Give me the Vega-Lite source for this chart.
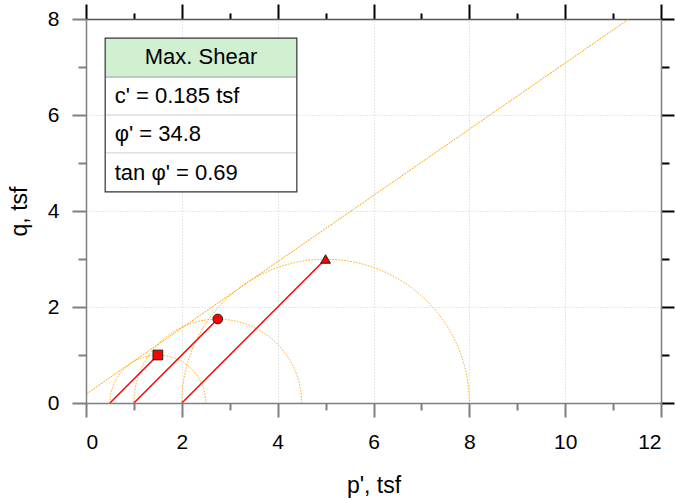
{
  "$schema": "https://vega.github.io/schema/vega-lite/v6.json",
  "width": 575,
  "height": 384,
  "autosize": "none",
  "padding": {"left": 86, "top": 19, "right": 14, "bottom": 97},
  "background": "white",
  "config": {
    "view": {"stroke": null},
    "font": "Liberation Sans",
    "axis": {"labelFont": "Liberation Sans", "titleFont": "Liberation Sans", "labelColor": "black", "titleColor": "black", "titleFontWeight": "normal"}
  },
  "datasets": {
    "tests": [
      {"test": "1", "p0": 0.5, "q0": 0, "p": 1.5, "q": 1.0, "r": 1.0},
      {"test": "2", "p0": 1.0, "q0": 0, "p": 2.75, "q": 1.75, "r": 1.75},
      {"test": "3", "p0": 2.0, "q0": 0, "p": 5.0, "q": 3.0, "r": 3.0}
    ],
    "envelope": [
      {"p": 0, "q": 0.185},
      {"p": 11.33, "q": 8.0}
    ],
    "box": [{"x1": 0.4, "x2": 4.4, "yh": 6.79, "yt": 7.6, "yb": 4.4}],
    "seps": [{"x1": 0.4, "x2": 4.4, "y": 6.0}, {"x1": 0.4, "x2": 4.4, "y": 5.21}],
    "header": [{"label": "Max. Shear", "x": 2.4, "y": 7.2}],
    "rows": [
      {"label": "c' = 0.185 tsf", "x": 0.6, "y": 6.4},
      {"label": "φ' = 34.8", "x": 0.6, "y": 5.6},
      {"label": "tan φ' = 0.69", "x": 0.6, "y": 4.8}
    ]
  },
  "layer": [
    {
      "data": {"name": "tests"},
      "mark": {"type": "point", "shape": "circle", "filled": false, "fill": null, "stroke": "#FFA500", "strokeWidth": 1, "strokeDash": [1.5, 1.5], "opacity": 1, "clip": true},
      "encoding": {
        "x": {"field": "p", "type": "quantitative", "scale": {"domain": [0, 12], "nice": false, "zero": false},
          "axis": {"orient": "bottom", "zindex": 1, "values": [0,1,2,3,4,5,6,7,8,9,10,11,12], "grid": false,
            "title": "p', tsf", "titleFontSize": 23, "titlePadding": 22, "labelFontSize": 21, "labelPadding": 14,
            "labelExpr": "datum.value % 2 == 0 ? datum.label : ''",
            "domainColor": "#7f7f7f", "domainWidth": 1.5, "tickColor": "#7f7f7f", "tickWidth": 2,
            "tickSize": {"condition": {"test": "datum.value % 2 == 1", "value": 7}, "value": 14}}},
        "y": {"field": "q0", "type": "quantitative", "scale": {"domain": [0, 8], "nice": false, "zero": false},
          "axis": {"orient": "left", "zindex": 1, "values": [0,1,2,3,4,5,6,7,8], "grid": false,
            "title": "q, tsf", "titleFontSize": 23, "titlePadding": 16, "labelFontSize": 21, "labelPadding": 13,
            "labelExpr": "datum.value % 2 == 0 ? datum.label : ''",
            "domainColor": "#7f7f7f", "domainWidth": 1.5, "tickColor": "#7f7f7f", "tickWidth": 2,
            "tickSize": {"condition": {"test": "datum.value % 2 == 1", "value": 8}, "value": 14}}},
        "size": {"field": "r", "type": "quantitative", "scale": {"type": "pow", "exponent": 2, "domain": [0, 12], "range": [0, 1322500], "zero": true}, "legend": null}
      }
    },
    {
      "data": {"name": "envelope"},
      "mark": {"type": "line", "color": "#FFA500", "strokeWidth": 1, "strokeDash": [2, 1]},
      "encoding": {
        "x": {"field": "p", "type": "quantitative",
          "axis": {"orient": "top", "zindex": 0, "values": [0,1,2,3,4,5,6,7,8,9,10,11,12], "title": null, "labels": false,
            "grid": true, "gridColor": "#cfcfcf", "gridDash": [1, 2], "gridWidth": 1,
            "gridOpacity": {"condition": {"test": "datum.value % 2 == 1 || datum.value == 0 || datum.value == 12", "value": 0}, "value": 1},
            "domainColor": "#555555", "domainWidth": 1.5, "tickColor": "black", "tickWidth": 2,
            "tickSize": {"condition": {"test": "datum.value % 2 == 1", "value": 6}, "value": 15}}},
        "y": {"field": "q", "type": "quantitative",
          "axis": {"orient": "right", "zindex": 0, "values": [0,1,2,3,4,5,6,7,8], "title": null, "labels": false,
            "grid": true, "gridColor": "#cfcfcf", "gridDash": [1, 2], "gridWidth": 1,
            "gridOpacity": {"condition": {"test": "datum.value % 2 == 1 || datum.value == 0 || datum.value == 8", "value": 0}, "value": 1},
            "domainColor": "#7f7f7f", "domainWidth": 1.5, "tickColor": "black", "tickWidth": 2,
            "tickSize": {"condition": {"test": "datum.value % 2 == 1", "value": 8}, "value": 13}}}
      }
    },
    {
      "data": {"name": "tests"},
      "mark": {"type": "rule", "color": "#FF0000", "strokeWidth": 1.5},
      "encoding": {
        "x": {"field": "p0", "type": "quantitative", "axis": null},
        "y": {"field": "q0", "type": "quantitative", "axis": null},
        "x2": {"field": "p"},
        "y2": {"field": "q"}
      }
    },
    {
      "data": {"name": "tests"},
      "mark": {"type": "point", "filled": true, "fill": "#FF0000", "stroke": "#222222", "strokeWidth": 1, "opacity": 1, "size": 95},
      "encoding": {
        "x": {"field": "p", "type": "quantitative", "axis": null},
        "y": {"field": "q", "type": "quantitative", "axis": null},
        "shape": {"field": "test", "type": "nominal", "scale": {"domain": ["1", "2", "3"], "range": ["square", "circle", "triangle-up"]}, "legend": null}
      }
    },
    {
      "data": {"name": "box"},
      "mark": {"type": "rect", "fill": "white"},
      "encoding": {
        "x": {"field": "x1", "type": "quantitative", "axis": null},
        "x2": {"field": "x2"},
        "y": {"field": "yb", "type": "quantitative", "axis": null},
        "y2": {"field": "yt"}
      }
    },
    {
      "data": {"name": "box"},
      "mark": {"type": "rect", "fill": "#D1EFD1"},
      "encoding": {
        "x": {"field": "x1", "type": "quantitative", "axis": null},
        "x2": {"field": "x2"},
        "y": {"field": "yh", "type": "quantitative", "axis": null},
        "y2": {"field": "yt"}
      }
    },
    {
      "data": {"name": "seps"},
      "mark": {"type": "rule", "color": "#cccccc", "strokeWidth": 1},
      "encoding": {
        "x": {"field": "x1", "type": "quantitative", "axis": null},
        "x2": {"field": "x2"},
        "y": {"field": "y", "type": "quantitative", "axis": null}
      }
    },
    {
      "data": {"name": "box"},
      "mark": {"type": "rule", "color": "#999999", "strokeWidth": 1},
      "encoding": {
        "x": {"field": "x1", "type": "quantitative", "axis": null},
        "x2": {"field": "x2"},
        "y": {"field": "yh", "type": "quantitative", "axis": null}
      }
    },
    {
      "data": {"name": "box"},
      "mark": {"type": "rect", "filled": false, "stroke": "#333333", "strokeWidth": 1.2},
      "encoding": {
        "x": {"field": "x1", "type": "quantitative", "axis": null},
        "x2": {"field": "x2"},
        "y": {"field": "yb", "type": "quantitative", "axis": null},
        "y2": {"field": "yt"}
      }
    },
    {
      "data": {"name": "header"},
      "mark": {"type": "text", "align": "center", "baseline": "middle", "fontSize": 22, "color": "black", "font": "Liberation Sans"},
      "encoding": {
        "x": {"field": "x", "type": "quantitative", "axis": null},
        "y": {"field": "y", "type": "quantitative", "axis": null},
        "text": {"field": "label"}
      }
    },
    {
      "data": {"name": "rows"},
      "mark": {"type": "text", "align": "left", "baseline": "middle", "fontSize": 22, "color": "black", "font": "Liberation Sans"},
      "encoding": {
        "x": {"field": "x", "type": "quantitative", "axis": null},
        "y": {"field": "y", "type": "quantitative", "axis": null},
        "text": {"field": "label"}
      }
    }
  ],
  "resolve": {"axis": {"x": "independent", "y": "independent"}}
}
